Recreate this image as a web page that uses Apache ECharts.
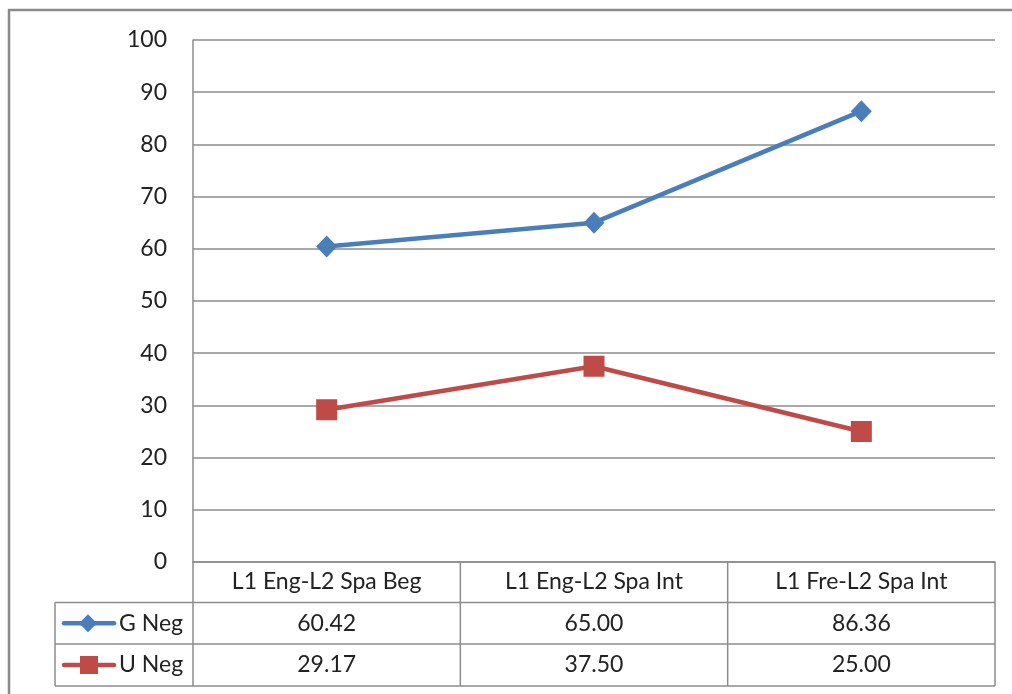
<!DOCTYPE html>
<html>
<head>
<meta charset="utf-8">
<script src="https://cdn.jsdelivr.net/npm/echarts@6/dist/echarts.min.js"></script>
<style>
  html, body { margin: 0; padding: 0; background: #fff; }
  #chart { width: 1012px; height: 694px; }
</style>
</head>
<body>
<div id="chart"></div>
<script>
// Groups compared along the x axis
const categories = ['L1 Eng-L2 Spa Beg', 'L1 Eng-L2 Spa Int', 'L1 Fre-L2 Spa Int'];
// Percentages per group
const gNeg = [60.42, 65.00, 86.36];
const uNeg = [29.17, 37.50, 25.00];
const seriesNames = ['G Neg', 'U Neg'];
const yTicks = [0, 10, 20, 30, 40, 50, 60, 70, 80, 90, 100];

const FONT = 'Lato';
const FS = 23;
const TEXT = '#222';
const GRID = '#8c8c8c';
const BLUE = '#4a7ebb';
const RED = '#be4b48';

const chart = echarts.init(document.getElementById('chart'), null, { renderer: 'canvas' });

const option = {
  animation: false,
  backgroundColor: '#fff',
  grid: { left: 193, right: 17, top: 40, bottom: 132, containLabel: false },
  xAxis: {
    type: 'category',
    data: categories,
    boundaryGap: true,
    axisLine: { show: true, lineStyle: { color: GRID, width: 1.5 } },
    axisTick: { show: false },
    axisLabel: {
      fontFamily: FONT, fontSize: FS, color: TEXT,
      margin: 20, verticalAlign: 'middle', interval: 0
    },
    splitLine: { show: false }
  },
  yAxis: {
    type: 'value',
    min: yTicks[0],
    max: yTicks[yTicks.length - 1],
    interval: 10,
    axisLine: { show: true, lineStyle: { color: GRID, width: 1.5 } },
    axisTick: { show: false },
    axisLabel: { fontFamily: FONT, fontSize: FS, color: TEXT, margin: 26 },
    splitLine: { show: true, lineStyle: { color: GRID, width: 1.5 } }
  },
  series: [
    {
      name: seriesNames[0], type: 'line', data: gNeg,
      symbol: 'diamond', symbolSize: [21, 22],
      lineStyle: { color: BLUE, width: 4.5 },
      itemStyle: { color: BLUE }
    },
    {
      name: seriesNames[1], type: 'line', data: uNeg,
      symbol: 'rect', symbolSize: 21,
      lineStyle: { color: RED, width: 4.5 },
      itemStyle: { color: RED }
    }
  ]
};

chart.setOption(option);

// Data table under the plot: rules, legend keys and value cells
const xPix = categories.map((c, i) => chart.convertToPixel({ xAxisIndex: 0 }, i));
const yAxisBottom = chart.convertToPixel({ yAxisIndex: 0 }, 0);
const plotLeft = 193, plotRight = 995, tableLeft = 55;
const rowTops = [yAxisBottom, yAxisBottom + 40.5, yAxisBottom + 82];
const tableBottom = yAxisBottom + 124;
const rowCenters = [(rowTops[1] + rowTops[2]) / 2, (rowTops[2] + tableBottom) / 2];
const colW = (plotRight - plotLeft) / categories.length;

const line = (x1, y1, x2, y2) => ({
  type: 'line',
  shape: { x1, y1, x2, y2 },
  style: { stroke: GRID, lineWidth: 1.5 },
  silent: true
});

const g = [];
// outer frame
g.push({ type: 'rect', shape: { x: 9, y: 10, width: 1020, height: 700 },
  style: { fill: null, stroke: '#8a8a8a', lineWidth: 2.5 }, silent: true });
// horizontal rules
g.push(line(tableLeft, rowTops[1], plotRight, rowTops[1]));
g.push(line(tableLeft, rowTops[2], plotRight, rowTops[2]));
g.push(line(tableLeft, tableBottom, plotRight, tableBottom));
// vertical rules
g.push(line(tableLeft, rowTops[1], tableLeft, tableBottom));
g.push(line(plotLeft, yAxisBottom, plotLeft, tableBottom));
for (let i = 1; i <= categories.length; i++) {
  const x = plotLeft + colW * i;
  g.push(line(x, yAxisBottom, x, tableBottom));
}
// legend keys in the row headers
const keyColors = [BLUE, RED];
rowCenters.forEach((cy, r) => {
  const col = keyColors[r];
  g.push({ type: 'line', shape: { x1: 64, y1: cy, x2: 114, y2: cy },
    style: { stroke: col, lineWidth: 4.5, lineCap: 'round' }, silent: true });
  if (r === 0) {
    g.push({ type: 'polygon',
      shape: { points: [[88, cy - 9], [97, cy], [88, cy + 9], [79, cy]] },
      style: { fill: col }, silent: true });
  } else {
    g.push({ type: 'rect', shape: { x: 80, y: cy - 9, width: 18, height: 18 },
      style: { fill: col }, silent: true });
  }
  g.push({ type: 'text', x: 119, y: cy,
    style: { text: seriesNames[r], fontFamily: FONT, fontSize: FS, fill: TEXT,
      align: 'left', verticalAlign: 'middle' }, silent: true });
});
// value cells
[gNeg, uNeg].forEach((vals, r) => {
  vals.forEach((v, i) => {
    g.push({
      type: 'text',
      x: xPix[i], y: rowCenters[r],
      style: {
        text: v.toFixed(2), fontFamily: FONT, fontSize: FS, fill: TEXT,
        align: 'center', verticalAlign: 'middle'
      },
      silent: true
    });
  });
});

chart.setOption({ graphic: { elements: g } });
</script>
</body>
</html>
